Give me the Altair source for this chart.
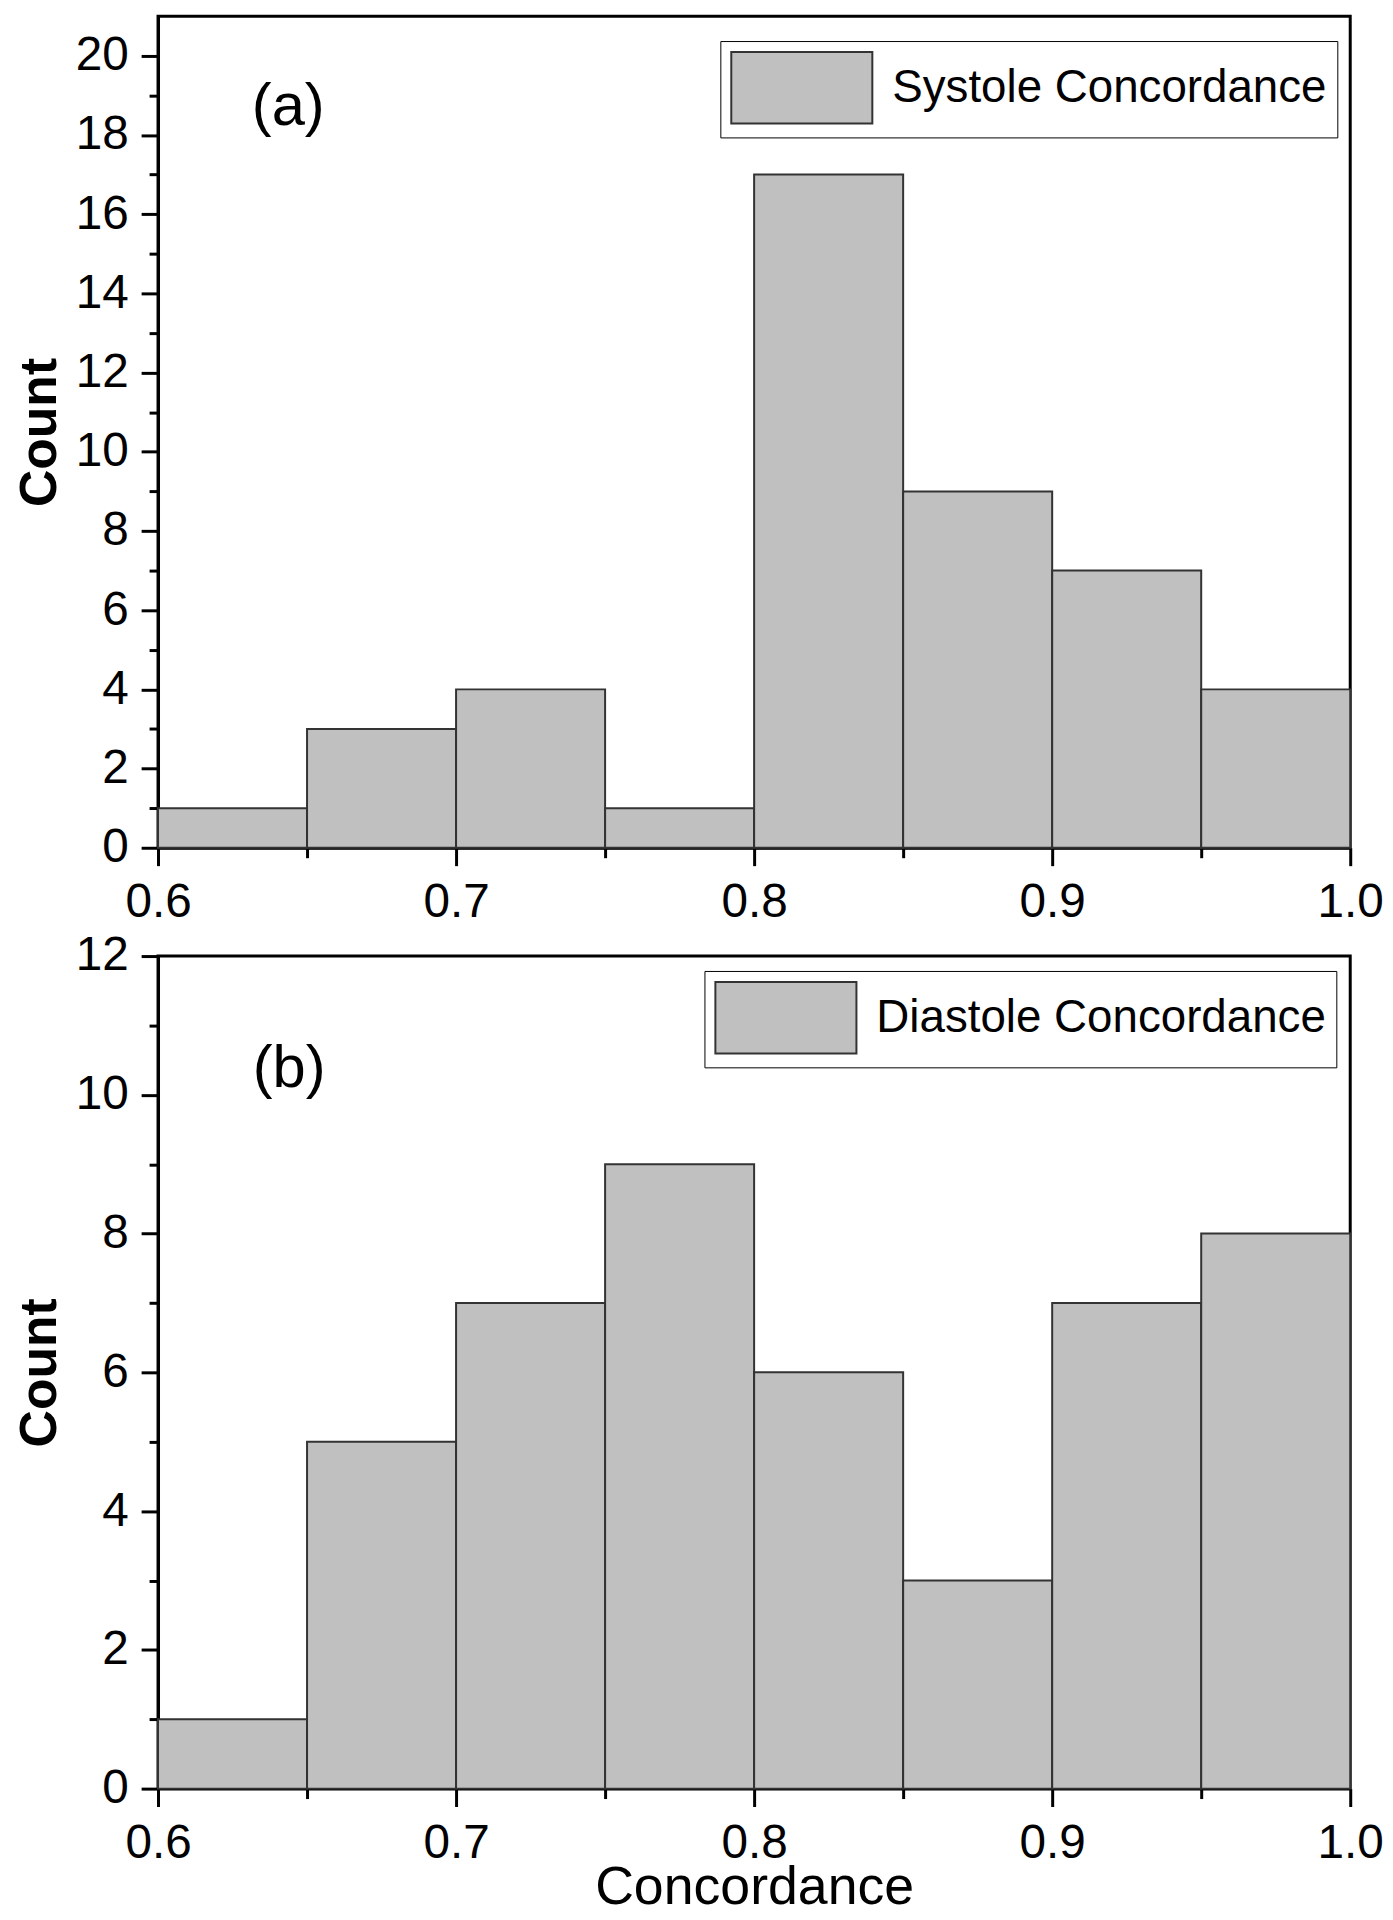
import altair as alt
import pandas as pd

# ---- data ----
bin_starts = [0.60, 0.65, 0.70, 0.75, 0.80, 0.85, 0.90, 0.95]
bin_ends = [0.65, 0.70, 0.75, 0.80, 0.85, 0.90, 0.95, 1.00]
systole_counts = [1, 3, 4, 1, 17, 9, 7, 4]
diastole_counts = [1, 5, 7, 9, 6, 3, 7, 8]

x_major = [0.6, 0.7, 0.8, 0.9, 1.0]
x_minor = [0.65, 0.75, 0.85, 0.95]
ya_major = [0, 2, 4, 6, 8, 10, 12, 14, 16, 18, 20]
ya_minor = [1, 3, 5, 7, 9, 11, 13, 15, 17, 19]
yb_major = [0, 2, 4, 6, 8, 10, 12]
yb_minor = [1, 3, 5, 7, 9, 11]

panel_labels = ["(a)", "(b)"]
panel_label_x = [0.6437, 0.6440]
panel_label_y = [18.25, 10.11]
series_names = ["Systole Concordance", "Diastole Concordance"]

FONT = "Liberation Sans"
BAR_FILL = "#c0c0c0"
BAR_STROKE = "#333333"
W = 1200


def panel(counts, name, ymax, ymaj, ymin, height, label, lx, ly,
          legend_x, legend_y, xtitle):
    df = pd.DataFrame({"start": bin_starts, "end": bin_ends,
                       "count": counts, "series": [name] * len(counts)})
    xs = alt.Scale(domain=[0.6, 1.0], nice=False, zero=False)
    ys = alt.Scale(domain=[0, ymax], nice=False)

    xaxis_kw = dict(orient="bottom", values=x_major, format=".1f",
                    tickSize=18, labelPadding=13, labelFlush=False,
                    labelOverlap=False, grid=False)
    if xtitle:
        xaxis_kw.update(title=xtitle, titleFont=FONT, titleFontSize=54,
                        titleFontWeight="normal", titleY=116,
                        titleBaseline="alphabetic")
    else:
        xaxis_kw.update(title=None)

    bars = alt.Chart(df).mark_bar(stroke=BAR_STROKE, strokeWidth=2,
                                  opacity=1).encode(
        x=alt.X("start:Q", scale=xs, axis=alt.Axis(**xaxis_kw)),
        x2="end:Q",
        y=alt.Y("count:Q", scale=ys, axis=alt.Axis(
            orient="left", values=ymaj, format="d", tickSize=17,
            labelPadding=13, grid=False, title="Count",
            titleX=-103, titleY=height / 2, titleAngle=270,
            titleAlign="center", titleBaseline="alphabetic",
            titleFont=FONT, titleFontSize=52, titleFontWeight="bold")),
        y2=alt.datum(0),
        color=alt.Color("series:N",
                        scale=alt.Scale(domain=[name], range=[BAR_FILL]),
                        legend=alt.Legend(
                            title=None, orient="none",
                            legendX=legend_x, legendY=legend_y,
                            symbolType="M-1,-1H2.944V1H-1Z",
                            symbolSize=5184,
                            symbolStrokeColor=BAR_STROKE,
                            symbolStrokeWidth=2,
                            symbolOpacity=1,
                            labelFont=FONT, labelFontSize=46,
                            labelColor="black", labelOffset=89,
                            labelLimit=1000, padding=10,
                            strokeColor="black", fillColor="white")),
    )

    minor = alt.Chart(df).mark_point(opacity=0).encode(
        x=alt.X("start:Q", scale=xs, axis=alt.Axis(
            orient="bottom", values=x_minor, tickSize=10, labels=False,
            domain=False, title=None, grid=False)),
        y=alt.Y("count:Q", scale=ys, axis=alt.Axis(
            orient="left", values=ymin, tickSize=9, labels=False,
            domain=False, title=None, grid=False)),
    )

    ldf = pd.DataFrame({"x": [lx], "y": [ly], "t": [label]})
    txt = alt.Chart(ldf).mark_text(font=FONT, fontSize=60, align="center",
                                   baseline="alphabetic",
                                   color="black").encode(
        x=alt.X("x:Q", scale=xs, axis=None),
        y=alt.Y("y:Q", scale=ys, axis=None),
        text="t:N",
    )

    return alt.layer(bars, minor, txt).resolve_axis(
        x="independent", y="independent").properties(width=W, height=height)


top = panel(systole_counts, series_names[0], 21, ya_major, ya_minor, 837,
            panel_labels[0], panel_label_x[0], panel_label_y[0], 566, 25, None)
bottom = panel(diastole_counts, series_names[1], 12, yb_major, yb_minor, 838,
               panel_labels[1], panel_label_x[1], panel_label_y[1], 550, 15,
               "Concordance")

chart = alt.vconcat(top, bottom, spacing=2).resolve_scale(
    color="independent").resolve_legend(color="independent").properties(
    padding={"left": 4, "top": 0, "right": 0, "bottom": 0},
    background="white"
).configure_view(
    stroke="black", strokeWidth=3
).configure_axis(
    domainColor="black", domainWidth=3, tickColor="black", tickWidth=3,
    labelColor="black", labelFont=FONT, labelFontSize=48,
    titleColor="black", grid=False
)

chart.save("out.html", embed_options={"renderer": "svg", "actions": False})
